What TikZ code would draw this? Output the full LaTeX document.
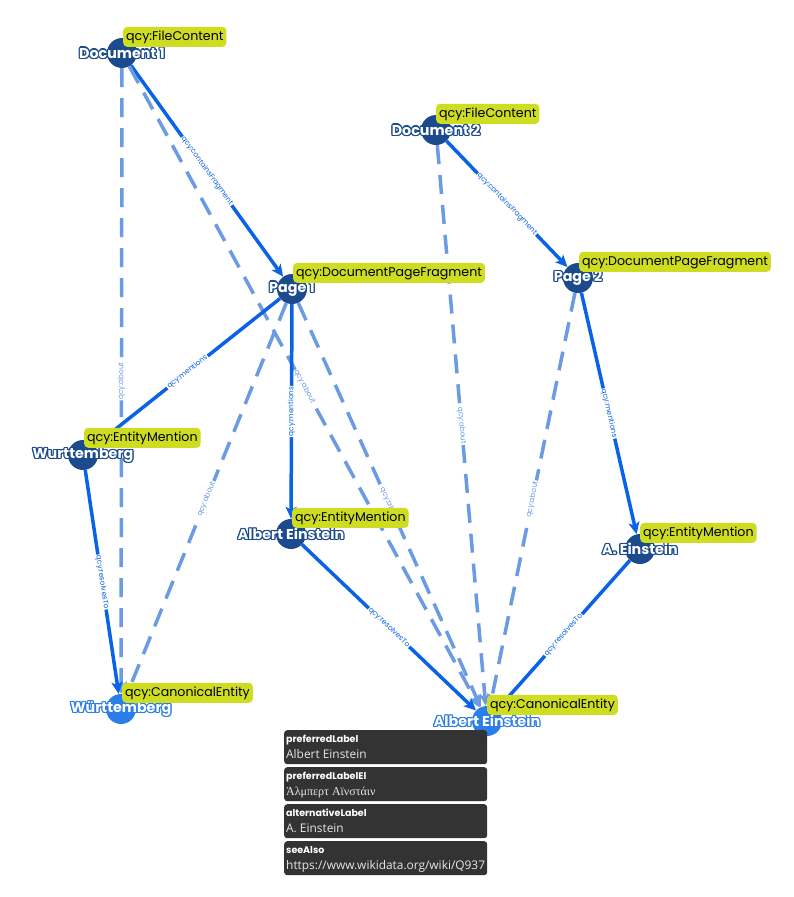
\documentclass[tikz,border=0pt]{standalone}
\usepackage{fontspec}
\setmainfont{Poppins}
\newfontfamily\greekfont{Liberation Serif}
\newfontfamily\valfont{Open Sans}
\usetikzlibrary{arrows.meta,calc}
\pgfdeclarelayer{pagebg}
\pgfdeclarelayer{edgelayer}
\pgfsetlayers{pagebg,edgelayer,main}
\definecolor{solidc}{HTML}{0A62E6}
\definecolor{dashc}{HTML}{6B9BE3}
\definecolor{nodec}{HTML}{1B4B8C}
\definecolor{canc}{HTML}{2B7DE9}
\definecolor{badgec}{HTML}{CEDD22}
\definecolor{boxc}{HTML}{333333}
\definecolor{valc}{HTML}{E6E6E6}
\newcommand\myolcp[3]{\rlap{\hspace*{#1}\raisebox{#2}{#3}}}
\newcommand\myoutl[2]{\leavevmode\rlap{\color{#1}%
\myolcp{1.3pt}{0pt}{#2}\myolcp{-1.3pt}{0pt}{#2}\myolcp{0pt}{1.3pt}{#2}\myolcp{0pt}{-1.3pt}{#2}%
\myolcp{0.92pt}{0.92pt}{#2}\myolcp{-0.92pt}{0.92pt}{#2}\myolcp{0.92pt}{-0.92pt}{#2}\myolcp{-0.92pt}{-0.92pt}{#2}}%
\textcolor{white}{#2}}
\tikzset{
  ent/.style={circle, fill=nodec, minimum size=30pt, inner sep=0pt},
  canon/.style={circle, fill=canc, minimum size=30pt, inner sep=0pt},
  nlabel/.style={font=\fontsize{14.3}{16}\selectfont\bfseries, inner sep=0pt},
  badge/.style={fill=badgec, rounded corners=4pt, font=\fontsize{12.6}{14}\selectfont,
    anchor=south west, inner xsep=3pt, inner ysep=0pt, minimum height=20pt,
    text height=9.5pt, text depth=2.5pt, text=black},
  rel/.style={draw=solidc, line width=3.5pt, -{Stealth[length=12pt,width=11pt,inset=3pt]}},
  relabout/.style={draw=dashc, line width=3.5pt, dash pattern=on 19pt off 11pt,
    -{Stealth[length=12pt,width=11pt,inset=3pt]}},
  elab/.style={font=\fontsize{7.3}{8}\selectfont, text=solidc, fill=white, inner sep=1pt, sloped, midway},
  dlab/.style={font=\fontsize{7.3}{8}\selectfont, text=dashc, fill=white, inner sep=1pt, sloped, midway},
  ibox/.style={fill=boxc, rounded corners=3pt, minimum width=203pt, minimum height=34pt,
    inner sep=0pt, anchor=north west},
  ikey/.style={font=\fontsize{9.5}{11}\selectfont\bfseries, text=white, inner sep=0pt, anchor=base west},
  ival/.style={font=\valfont\fontsize{11.9}{13}\selectfont, text=valc, inner sep=0pt, anchor=base west},
}
\begin{document}
\begin{tikzpicture}[x=1pt,y=-1pt]
\useasboundingbox (0,0) rectangle (794,897);
\begin{pgfonlayer}{pagebg}
\fill[white] (0,0) rectangle (794,897);
\end{pgfonlayer}
% nodes
\node[ent] (d1) at (122,53) {};
\node[ent] (d2) at (436,130) {};
\node[ent] (p1) at (292,289) {};
\node[ent] (p2) at (578,278) {};
\node[ent] (wm) at (83,455) {};
\node[ent] (am) at (291,534) {};
\node[ent] (aem) at (640,549) {};
\node[canon] (wc) at (121,709) {};
\node[canon] (ac) at (487,721) {};
% edges
\begin{pgfonlayer}{edgelayer}
\draw[rel] (d1) -- node[elab]{qcy:containsFragment} (p1);
\draw[relabout] (d1) -- node[dlab]{qcy:about} (wc);
\draw[relabout] (d1) -- node[dlab]{qcy:about} (ac);
\draw[rel] (p1) -- node[elab]{qcy:mentions} (wm);
\draw[rel] (p1) -- node[elab]{qcy:mentions} (am);
\draw[relabout] (p1) -- node[dlab]{qcy:about} (wc);
\draw[relabout] (p1) -- node[dlab]{qcy:about} (ac);
\draw[rel] (wm) -- node[elab]{qcy:resolvesTo} (wc);
\draw[rel] (am) -- node[elab]{qcy:resolvesTo} (ac);
\draw[rel] (d2) -- node[elab]{qcy:containsFragment} (p2);
\draw[relabout] (d2) -- node[dlab]{qcy:about} (ac);
\draw[relabout] (p2) -- node[dlab]{qcy:about} (ac);
\draw[rel] (p2) -- node[elab]{qcy:mentions} (aem);
\draw[rel] (aem) -- node[elab]{qcy:resolvesTo} (ac);
\end{pgfonlayer}
% node labels
\node[nlabel] (d1l) at (d1) {\myoutl{nodec}{Document 1}};
\node[nlabel] (d2l) at (d2) {\myoutl{nodec}{Document 2}};
\node[nlabel] (p1l) at (p1) {\myoutl{nodec}{Page 1}};
\node[nlabel] (p2l) at (p2) {\myoutl{nodec}{Page 2}};
\node[nlabel] (wml) at (wm) {\myoutl{nodec}{Wurttemberg}};
\node[nlabel] (aml) at (am) {\myoutl{nodec}{Albert Einstein}};
\node[nlabel] (aeml) at (aem) {\myoutl{nodec}{A. Einstein}};
\node[nlabel] (wcl) at (wc) {\myoutl{canc}{Württemberg}};
\node[nlabel] (acl) at (ac) {\myoutl{canc}{Albert Einstein}};
% badges
\node[badge] (d1b) at ($(d1)+(1,-6)$) {qcy:FileContent};
\node[badge] (d2b) at ($(d2)+(0,-6)$) {qcy:FileContent};
\node[badge] (p1b) at ($(p1)+(1,-6)$) {qcy:DocumentPageFragment};
\node[badge] (p2b) at ($(p2)+(1,-6)$) {qcy:DocumentPageFragment};
\node[badge] (wmb) at ($(wm)+(1,-7)$) {qcy:EntityMention};
\node[badge] (amb) at ($(am)+(1,-6)$) {qcy:EntityMention};
\node[badge] (aemb) at ($(aem)+(0,-6)$) {qcy:EntityMention};
\node[badge] (wcb) at ($(wc)+(1,-6)$) {qcy:CanonicalEntity};
\node[badge] (acb) at ($(ac)+(0,-6)$) {qcy:CanonicalEntity};
% info boxes
\node[ibox] (b1) at (284,730) {};
\node[ikey] (b1k) at (286,742.5) {preferredLabel};
\node[ival] (b1v) at (286,758) {Albert Einstein};
\node[ibox] (b2) at (284,767) {};
\node[ikey] (b2k) at (286,779.5) {preferredLabelEl};
\node[ival, font=\greekfont\fontsize{12}{13}\selectfont] (b2v) at (286,795) {Άλμπερτ Αϊνστάιν};
\node[ibox] (b3) at (284,804) {};
\node[ikey] (b3k) at (286,816.5) {alternativeLabel};
\node[ival] (b3v) at (286,832) {A. Einstein};
\node[ibox] (b4) at (284,841) {};
\node[ikey] (b4k) at (286,853.5) {seeAlso};
\node[ival] (b4v) at (286,869) {https://www.wikidata.org/wiki/Q937};
\end{tikzpicture}
\end{document}
